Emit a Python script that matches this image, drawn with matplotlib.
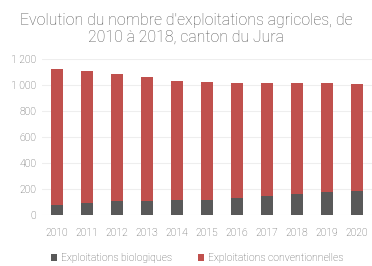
import matplotlib
matplotlib.use('Agg')
import matplotlib.pyplot as plt
import numpy as np

plt.rcParams['font.family'] = ['Roboto', 'DejaVu Sans']

# Data
annees = ['2010', '2011', '2012', '2013', '2014', '2015', '2016', '2017', '2018', '2019', '2020']
biologiques = [81, 96, 110, 112, 117, 122, 135, 150, 166, 181, 189]
totaux = [1123, 1103, 1080, 1057, 1026, 1021, 1016, 1016, 1011, 1016, 1006]
conventionnelles = [t - b for t, b in zip(totaux, biologiques)]

gris_texte = '#595959'

fig = plt.figure(figsize=(3.72, 2.66), dpi=100)
ax = fig.add_axes([0.113, 0.19, 0.887, 0.59])

x = np.arange(len(annees))
ax.bar(x, biologiques, width=0.42, color='#595959', label='Exploitations biologiques', zorder=3)
ax.bar(x, conventionnelles, width=0.42, bottom=biologiques, color='#C0504D',
       label='Exploitations conventionnelles', zorder=3)

ax.set_xlim(-0.5, len(annees) - 0.5)
ax.set_ylim(0, 1200)
ax.set_yticks(range(0, 1201, 200))
ax.set_yticklabels([f'{v:,}'.replace(',', ' ') for v in range(0, 1201, 200)])
ax.set_xticks(x)
ax.set_xticklabels(annees)
ax.tick_params(axis='both', length=0, labelsize=7.5, colors=gris_texte, pad=4)
ax.tick_params(axis='x', pad=9)
for lab in ax.get_xticklabels() + ax.get_yticklabels():
    lab.set_fontweight('light')
ax.grid(axis='y', color='#EEEEEE', linewidth=0.8, zorder=0)
for s in ax.spines.values():
    s.set_visible(False)

fig.suptitle("Evolution du nombre d'exploitations agricoles, de\n2010 à 2018, canton du Jura",
             y=0.95, fontsize=11.4, color=gris_texte, linespacing=1.12, fontweight='light')

leg = ax.legend(loc='center', bbox_to_anchor=(0.53, 0.03), bbox_transform=fig.transFigure,
                ncol=2, frameon=False, fontsize=7.5, labelcolor=gris_texte,
                handlelength=0.6, handleheight=0.6, handletextpad=0.4, columnspacing=2.5)
for t in leg.get_texts():
    t.set_fontweight('light')

fig.savefig('out.png', dpi=100)
